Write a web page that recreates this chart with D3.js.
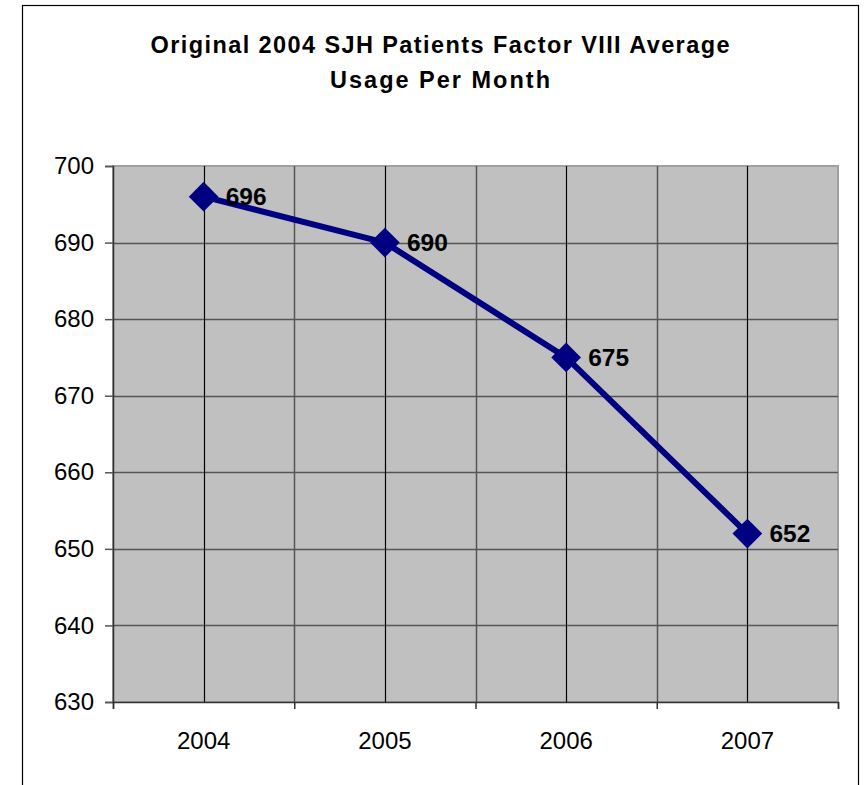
<!DOCTYPE html>
<html>
<head>
<meta charset="utf-8">
<script src="https://cdn.jsdelivr.net/npm/d3@7"></script>
<style>
  body { margin: 0; background: #fff; }
  svg { display: block; font-family: Arial, "Liberation Sans", sans-serif; }
</style>
</head>
<body>
<div id="grafico"></div>
<script>
// --- dati ---
const anni = ["2004", "2005", "2006", "2007"];
const utilizzo = [696, 690, 675, 652];
const tickY = [630, 640, 650, 660, 670, 680, 690, 700];
const titolo = ["Original 2004 SJH Patients Factor VIII Average", "Usage Per Month"];

const W = 864, H = 785;
const plot = {left: 113, right: 838, top: 166, bottom: 702};

const svg = d3.select("#grafico").append("svg")
  .attr("width", W)
  .attr("height", H);

// bordo esterno del grafico
svg.append("rect")
  .attr("x", 22.5).attr("y", 5.5)
  .attr("width", 836).attr("height", 800)
  .attr("fill", "#fff")
  .attr("stroke", "#000")
  .attr("stroke-width", 1.2);

// titolo
svg.append("text")
  .attr("x", 440).attr("y", 53)
  .attr("text-anchor", "middle")
  .attr("font-size", 23.5).attr("font-weight", "bold")
  .attr("textLength", 579).attr("lengthAdjust", "spacing")
  .text(titolo[0]);
svg.append("text")
  .attr("x", 440).attr("y", 88)
  .attr("text-anchor", "middle")
  .attr("font-size", 23.5).attr("font-weight", "bold")
  .attr("textLength", 220).attr("lengthAdjust", "spacing")
  .text(titolo[1]);

// scale
const x = d3.scaleBand().domain(anni).range([plot.left, plot.right]).padding(0);
const xBordi = d3.scaleLinear().domain([0, anni.length]).range([plot.left, plot.right]);
const y = d3.scaleLinear().domain([630, 700]).range([plot.bottom, plot.top]);

// area del grafico
svg.append("rect")
  .attr("x", plot.left).attr("y", plot.top)
  .attr("width", plot.right - plot.left).attr("height", plot.bottom - plot.top)
  .attr("fill", "#c0c0c0")
  .attr("stroke", "#a0a0a0")
  .attr("stroke-width", 2);

// griglia orizzontale
svg.append("g").selectAll("line")
  .data(tickY.filter(d => d > 630 && d < 700))
  .join("line")
    .attr("x1", plot.left).attr("x2", plot.right)
    .attr("y1", d => Math.round(y(d)) + 0.5).attr("y2", d => Math.round(y(d)) + 0.5)
    .attr("stroke", "#555").attr("stroke-width", 1.5);

// griglia verticale ai bordi delle categorie
svg.append("g").selectAll("line")
  .data(d3.range(1, anni.length))
  .join("line")
    .attr("x1", d => Math.round(xBordi(d)) + 0.5).attr("x2", d => Math.round(xBordi(d)) + 0.5)
    .attr("y1", plot.top).attr("y2", plot.bottom)
    .attr("stroke", "#555").attr("stroke-width", 1.5);

// griglia verticale al centro delle categorie
svg.append("g").selectAll("line")
  .data(anni)
  .join("line")
    .attr("x1", d => Math.round(x(d) + x.bandwidth() / 2) + 0.5)
    .attr("x2", d => Math.round(x(d) + x.bandwidth() / 2) + 0.5)
    .attr("y1", plot.top).attr("y2", plot.bottom)
    .attr("stroke", "#000").attr("stroke-width", 1.2);

// asse Y
const asseY = svg.append("g")
  .attr("transform", `translate(${plot.left},0)`)
  .call(d3.axisLeft(y).tickValues(tickY).tickSize(8).tickPadding(11).tickFormat(d3.format("d")));
asseY.selectAll("text").attr("font-size", 24).attr("fill", "#000").attr("font-family", "Arial, 'Liberation Sans', sans-serif");
asseY.selectAll("line").attr("stroke", "#555").attr("stroke-width", 1.5);
asseY.select(".domain").attr("stroke", "#333").attr("stroke-width", 1.5);

// asse X: tacche ai bordi
const asseX = svg.append("g")
  .attr("transform", `translate(0,${plot.bottom})`)
  .call(d3.axisBottom(xBordi).tickValues(d3.range(0, anni.length + 1)).tickSize(7).tickFormat(""));
asseX.selectAll("line").attr("stroke", "#333").attr("stroke-width", 1.5);
asseX.select(".domain").attr("stroke", "#333").attr("stroke-width", 1.5);

// etichette anni
const etichetteX = svg.append("g")
  .attr("transform", `translate(0,${plot.bottom})`)
  .call(d3.axisBottom(x).tickSize(0).tickPadding(30));
etichetteX.select(".domain").remove();
etichetteX.selectAll("text").attr("font-size", 24).attr("fill", "#000").attr("font-family", "Arial, 'Liberation Sans', sans-serif");

// serie
const dati = anni.map((a, i) => ({anno: a, valore: utilizzo[i]}));
const cx = d => x(d.anno) + x.bandwidth() / 2;

svg.append("path")
  .datum(dati)
  .attr("fill", "none")
  .attr("stroke", "#000080")
  .attr("stroke-width", 6)
  .attr("stroke-linejoin", "round")
  .attr("d", d3.line().x(cx).y(d => y(d.valore)));

svg.append("g").selectAll("path")
  .data(dati)
  .join("path")
    .attr("transform", d => `translate(${cx(d)},${y(d.valore)}) rotate(45)`)
    .attr("d", d3.symbol(d3.symbolSquare, 441))
    .attr("fill", "#000080");

svg.append("g").selectAll("text")
  .data(dati)
  .join("text")
    .attr("x", d => cx(d) + 22)
    .attr("y", d => y(d.valore))
    .attr("dy", "0.36em")
    .attr("font-size", 24.5).attr("font-weight", "bold")
    .text(d => d.valore);
</script>
</body>
</html>
